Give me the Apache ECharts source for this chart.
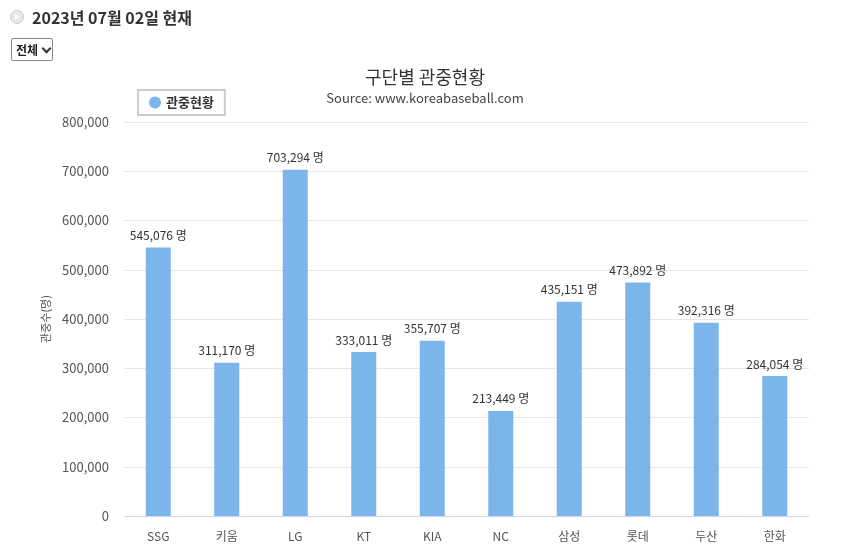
<!DOCTYPE html>
<html>
<head>
<meta charset="utf-8">
<script src="https://cdn.jsdelivr.net/npm/echarts@6/dist/echarts.min.js"></script>
<style>
    body { margin: 0; background: #fff; font-family: "Noto Sans CJK KR", "Noto Sans", sans-serif; }
    #wrap { position: relative; width: 850px; height: 556px; }
    #chart { position: absolute; left: 0; top: 0; width: 850px; height: 556px; }
    #head { position: absolute; left: 10px; top: 5px; font-size: 16px; font-weight: bold; color: #333; display: flex; align-items: center; white-space: nowrap; }
    #head .ic { width: 12px; height: 12px; border-radius: 50%; border: 1px solid #ccc; background: #e8e8e8; margin-right: 8px; position: relative; }
    #head .ic:after { content: ''; position: absolute; left: 4px; top: 3px; border-left: 5px solid #fff; border-top: 3px solid transparent; border-bottom: 3px solid transparent; }
    #sel { position: absolute; left: 11px; top: 38px; width: 42px; height: 23px; border: 1px solid #888; border-radius: 2px; font-size: 12px; font-weight: bold; color: #222; display: flex; align-items: center; padding-left: 4px; box-sizing: border-box; white-space: nowrap; }
    #sel span.cv { display: inline-block; width: 5px; height: 5px; border-right: 2px solid #333; border-bottom: 2px solid #333; transform: rotate(45deg); margin: -3px 0 0 5px; }
</style>
</head>
<body>
<div id="wrap">
    <div id="chart"></div>
    <div id="head"><span class="ic"></span>2023년 07월 02일 현재</div>
    <div id="sel">전체<span class="cv"></span></div>
</div>
<script>
const teams = ['SSG', '키움', 'LG', 'KT', 'KIA', 'NC', '삼성', '롯데', '두산', '한화'];
const attendance = [545076, 311170, 703294, 333011, 355707, 213449, 435151, 473892, 392316, 284054];

const chart = echarts.init(document.getElementById('chart'));

const option = {
    animation: false,
    textStyle: {fontFamily: '"Noto Sans CJK KR", sans-serif'},
    title: {
        text: '구단별 관중현황',
        subtext: 'Source: www.koreabaseball.com',
        left: 'center',
        top: 63,
        itemGap: 6,
        textStyle: {fontSize: 18, fontWeight: 'normal', color: '#333'},
        subtextStyle: {fontSize: 13, color: '#444'},
    },
    legend: {
        left: 138,
        top: 90,
        padding: [6, 11, 6, 11],
        borderColor: '#ccc',
        borderWidth: 2,
        itemWidth: 12,
        itemHeight: 12,
        icon: 'circle',
        textStyle: {fontSize: 13, fontWeight: 'bold', color: '#333'},
        data: ['관중현황'],
    },
    grid: {left: 124, right: 41, top: 122, bottom: 40},
    xAxis: {
        type: 'category',
        data: teams,
        axisLine: {lineStyle: {color: '#ccd6eb'}},
        axisTick: {length: 10, lineStyle: {color: '#ccd6eb'}},
        axisLabel: {fontSize: 12, color: '#555', margin: 14},
    },
    yAxis: {
        type: 'value',
        min: 0,
        max: 800000,
        interval: 100000,
        name: '관중수(명)',
        nameLocation: 'middle',
        nameGap: 71,
        nameTextStyle: {fontSize: 11, color: '#555'},
        axisLabel: {
            fontSize: 13,
            color: '#555',
            margin: 15,
            formatter: (v) => v.toLocaleString('en-US'),
        },
        splitLine: {lineStyle: {color: '#e6e6e6'}},
    },
    series: [
        {
            name: '관중현황',
            type: 'bar',
            data: attendance,
            barWidth: 25,
            itemStyle: {color: '#7cb5ec'},
            label: {
                show: true,
                position: 'top',
                distance: 6,
                fontSize: 12,
                color: '#333',
                formatter: (p) => p.value.toLocaleString('en-US') + ' 명',
            },
        },
    ],
};

chart.setOption(option);
</script>
</body>
</html>
